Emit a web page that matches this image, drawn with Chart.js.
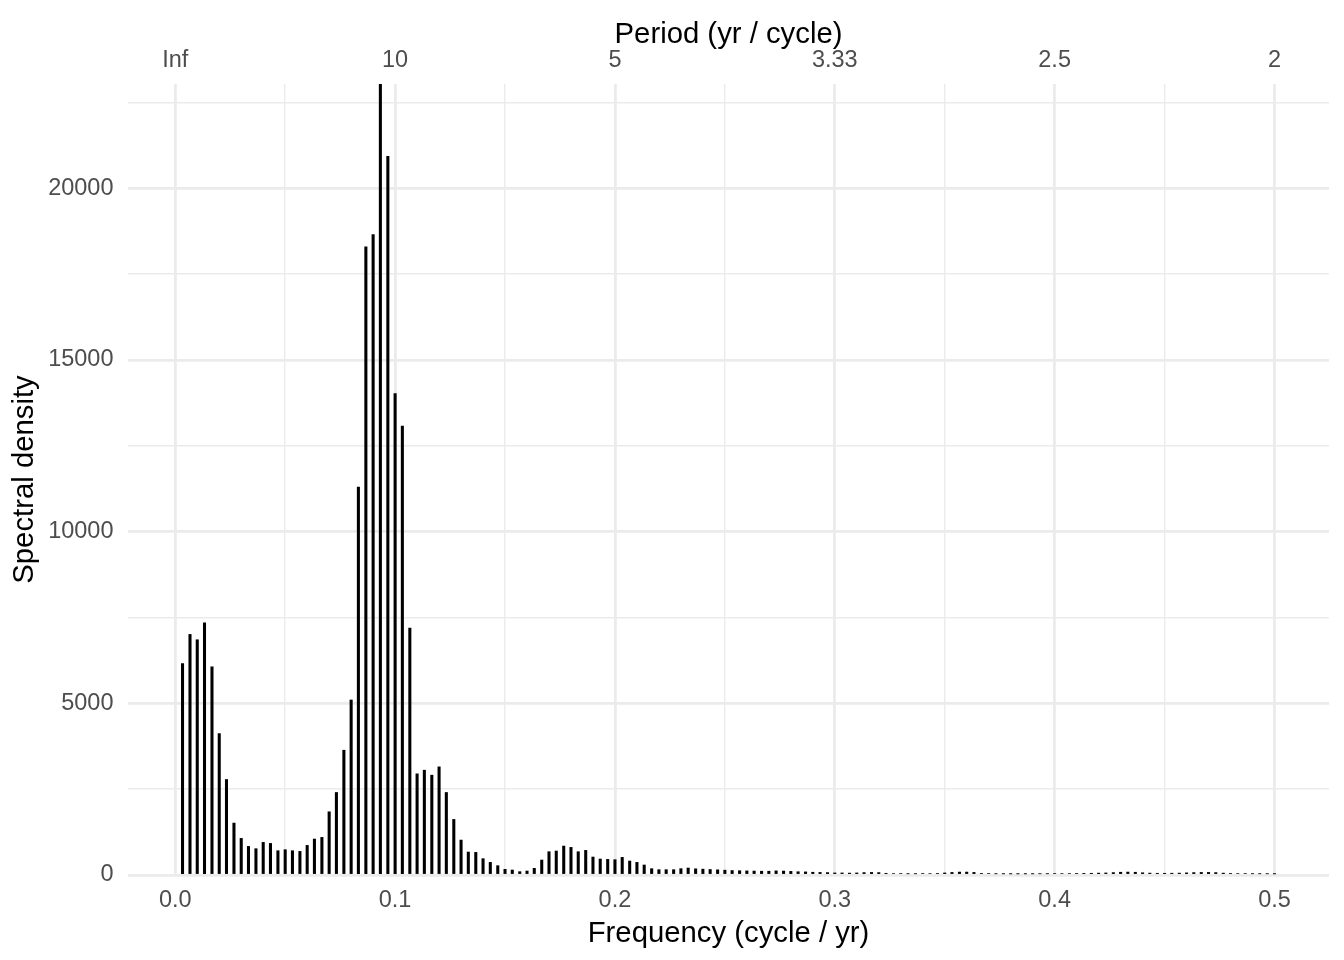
<!DOCTYPE html>
<html><head><meta charset="utf-8">
<script src="https://cdn.jsdelivr.net/npm/chart.js@4.4.1/dist/chart.umd.min.js"></script>
<style>html,body{margin:0;padding:0;background:#fff;} canvas{display:block;}</style>
</head><body>
<canvas id="c" width="1344" height="960"></canvas>
<script>
// Fourier frequencies (cycle / yr)
const frequency = [
 0.0033,0.0067,0.0100,0.0133,0.0167,0.0200,0.0233,0.0267,0.0300,0.0333,
 0.0367,0.0400,0.0433,0.0467,0.0500,0.0533,0.0567,0.0600,0.0633,0.0667,
 0.0700,0.0733,0.0767,0.0800,0.0833,0.0867,0.0900,0.0933,0.0967,0.1000,
 0.1033,0.1067,0.1100,0.1133,0.1167,0.1200,0.1233,0.1267,0.1300,0.1333,
 0.1367,0.1400,0.1433,0.1467,0.1500,0.1533,0.1567,0.1600,0.1633,0.1667,
 0.1700,0.1733,0.1767,0.1800,0.1833,0.1867,0.1900,0.1933,0.1967,0.2000,
 0.2033,0.2067,0.2100,0.2133,0.2167,0.2200,0.2233,0.2267,0.2300,0.2333,
 0.2367,0.2400,0.2433,0.2467,0.2500,0.2533,0.2567,0.2600,0.2633,0.2667,
 0.2700,0.2733,0.2767,0.2800,0.2833,0.2867,0.2900,0.2933,0.2967,0.3000,
 0.3033,0.3067,0.3100,0.3133,0.3167,0.3200,0.3233,0.3267,0.3300,0.3333,
 0.3367,0.3400,0.3433,0.3467,0.3500,0.3533,0.3567,0.3600,0.3633,0.3667,
 0.3700,0.3733,0.3767,0.3800,0.3833,0.3867,0.3900,0.3933,0.3967,0.4000,
 0.4033,0.4067,0.4100,0.4133,0.4167,0.4200,0.4233,0.4267,0.4300,0.4333,
 0.4367,0.4400,0.4433,0.4467,0.4500,0.4533,0.4567,0.4600,0.4633,0.4667,
 0.4700,0.4733,0.4767,0.4800,0.4833,0.4867,0.4900,0.4933,0.4967,0.5000
];
// Spectral density
const density = [
 6154,7006,6851,7340,6063,4118,2781,1512,1066,833,
 766,950,920,707,737,707,688,862,1047,1095,
 1841,2403,3634,5097,11299,18294,18653,23035,20930,14021,
 13071,7190,2946,3052,2907,3149,2403,1618,1017,669,
 659,475,368,271,165,145,97,116,194,436,
 678,698,843,804,678,717,523,465,455,446,
 513,407,368,291,184,155,155,155,184,203,
 180,170,160,150,140,130,125,120,115,110,
 110,120,115,105,95,90,80,75,70,60,
 60,55,60,70,75,70,50,40,38,35,
 35,38,40,45,60,75,85,85,75,45,
 38,35,33,32,32,32,33,35,35,38,
 40,42,45,48,50,55,60,70,80,85,
 80,65,55,50,50,52,55,62,70,75,
 75,70,55,45,40,38,36,35,35,32
];
const xTicks = [0,0.05,0.1,0.15,0.2,0.25,0.3,0.35,0.4,0.45,0.5];
const xLabels = ['0.0','','0.1','','0.2','','0.3','','0.4','','0.5'];
const periodTicks = [0,0.1,0.2,0.3,0.4,0.5];
const periodLabels = ['Inf','10','5','3.33','2.5','2'];
const yTicks = [0,2500,5000,7500,10000,12500,15000,17500,20000,22500];
const yLabels = ['0','','5000','','10000','','15000','','20000',''];

const X_MIN = -0.0215, X_MAX = 0.5248, Y_MAX = 23035;
const FONT = "'Liberation Sans', Arial, Helvetica, sans-serif";
const tickFont = {family: FONT, size: 23.5};
const titleFont = {family: FONT, size: 29.3};
const gridW = ctx => (ctx.index % 2 === 0 ? 2.8 : 1.4);

new Chart(document.getElementById('c'), {
  type: 'bar',
  data: {
    datasets: [{
      data: frequency.map((f, i) => ({x: f, y: density[i]})),
      backgroundColor: '#000000',
      borderWidth: 0,
      barThickness: 2.4,
      xAxisID: 'x',
      yAxisID: 'y'
    }]
  },
  options: {
    responsive: false,
    animation: false,
    devicePixelRatio: 1,
    layout: {padding: {left: 0, right: 15, top: 0, bottom: 0}},
    plugins: {legend: {display: false}, tooltip: {enabled: false}},
    scales: {
      x: {
        type: 'linear', position: 'bottom', min: X_MIN, max: X_MAX, offset: false,
        afterBuildTicks: ax => { ax.ticks = xTicks.map(v => ({value: v})); },
        afterFit: ax => { ax.height = 85; },
        grid: {color: '#ebebeb', lineWidth: gridW, drawTicks: false, offset: false},
        border: {display: false},
        ticks: {autoSkip: false, maxRotation: 0, padding: 11, color: '#4d4d4d', font: tickFont,
                callback: (v, i) => xLabels[i]},
        title: {display: true, text: 'Frequency (cycle / yr)', color: '#000000', font: titleFont,
                padding: {top: 0, bottom: 8.6}}
      },
      x2: {
        type: 'linear', position: 'top', min: X_MIN, max: X_MAX, offset: false,
        afterBuildTicks: ax => { ax.ticks = periodTicks.map(v => ({value: v})); },
        afterFit: ax => { ax.height = 84; },
        grid: {display: false, drawTicks: false},
        border: {display: false},
        ticks: {autoSkip: false, maxRotation: 0, padding: 9, color: '#4d4d4d', font: tickFont,
                callback: (v, i) => periodLabels[i]},
        title: {display: true, text: 'Period (yr / cycle)', color: '#000000', font: titleFont,
                padding: {top: 17, bottom: 0}}
      },
      y: {
        type: 'linear', position: 'left', min: 0, max: Y_MAX,
        afterBuildTicks: ax => { ax.ticks = yTicks.map(v => ({value: v})); },
        afterFit: ax => { ax.width = 128; },
        grid: {color: '#ebebeb', lineWidth: gridW, drawTicks: false},
        border: {display: false},
        ticks: {autoSkip: false, padding: 14.5, color: '#4d4d4d', font: tickFont,
                callback: (v, i) => yLabels[i]},
        title: {display: true, text: 'Spectral density', color: '#000000', font: titleFont,
                padding: {top: 7.2, bottom: 0}}
      }
    }
  }
});
</script>
</body></html>
